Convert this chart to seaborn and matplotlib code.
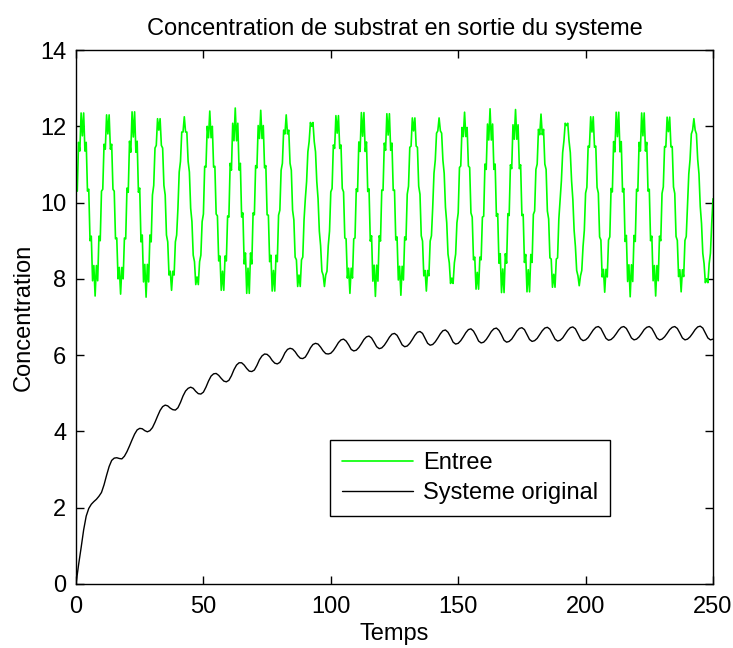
import numpy as np
import pandas as pd
import matplotlib
matplotlib.use("Agg")
import matplotlib.pyplot as plt
import seaborn as sns

# ---------------- data ----------------
# Input signal "Entree", sampled every 0.5 time unit from t = 0 to t = 250
entree = [
    10.35, 10.30, 11.58, 11.35, 12.35, 11.75, 12.35, 11.35, 11.58, 10.30, 10.35, 9.00, 9.12, 7.95, 8.35, 7.55, 8.35, 7.95, 9.12, 9.00,
    10.30, 10.35, 11.53, 11.40, 12.30, 11.80, 12.30, 11.40, 11.53, 10.35, 10.30, 9.05, 9.07, 8.00, 8.30, 7.60, 8.30, 8.00, 9.07, 9.05,
    10.38, 10.27, 11.61, 11.32, 12.38, 11.72, 12.38, 11.32, 11.61, 10.27, 10.38, 8.97, 9.15, 7.92, 8.38, 7.52, 8.38, 7.92, 9.15, 8.97,
    10.20, 10.45, 11.43, 11.50, 12.20, 11.90, 12.20, 11.50, 11.43, 10.45, 10.20, 9.15, 8.97, 8.10, 8.20, 7.70, 8.20, 8.10, 8.97, 9.15,
    9.85, 10.80, 11.08, 11.85, 11.85, 12.25, 11.85, 11.85, 11.08, 10.80, 9.85, 9.50, 8.62, 8.45, 7.85, 8.05, 7.85, 8.45, 8.62, 9.50,
    9.70, 10.95, 10.93, 12.00, 11.70, 12.40, 11.70, 12.00, 10.93, 10.95, 9.70, 9.65, 8.47, 8.60, 7.70, 8.20, 7.70, 8.60, 8.47, 9.65,
    9.62, 11.03, 10.85, 12.08, 11.62, 12.48, 11.62, 12.08, 10.85, 11.03, 9.62, 9.73, 8.39, 8.68, 7.62, 8.28, 7.62, 8.68, 8.39, 9.73,
    9.68, 10.97, 10.91, 12.02, 11.68, 12.42, 11.68, 12.02, 10.91, 10.97, 9.68, 9.67, 8.45, 8.62, 7.68, 8.22, 7.68, 8.62, 8.45, 9.67,
    9.80, 10.85, 11.03, 11.90, 11.80, 12.30, 11.80, 11.90, 11.03, 10.85, 9.80, 9.55, 8.57, 8.50, 7.80, 8.10, 7.80, 8.50, 8.57, 9.55,
    10.10, 10.55, 11.33, 11.60, 12.10, 12.00, 12.10, 11.60, 11.33, 10.55, 10.10, 9.25, 8.87, 8.20, 8.10, 7.80, 8.10, 8.20, 8.87, 9.25,
    10.28, 10.37, 11.51, 11.42, 12.28, 11.82, 12.28, 11.42, 11.51, 10.37, 10.28, 9.07, 9.05, 8.02, 8.28, 7.62, 8.28, 8.02, 9.05, 9.07,
    10.36, 10.29, 11.59, 11.34, 12.36, 11.74, 12.36, 11.34, 11.59, 10.29, 10.36, 8.99, 9.13, 7.94, 8.36, 7.54, 8.36, 7.94, 9.13, 8.99,
    10.33, 10.32, 11.56, 11.37, 12.33, 11.77, 12.33, 11.37, 11.56, 10.32, 10.33, 9.02, 9.10, 7.97, 8.33, 7.57, 8.33, 7.97, 9.10, 9.02,
    10.22, 10.43, 11.45, 11.48, 12.22, 11.88, 12.22, 11.48, 11.45, 10.43, 10.22, 9.13, 8.99, 8.08, 8.22, 7.68, 8.22, 8.08, 8.99, 9.13,
    9.88, 10.77, 11.11, 11.82, 11.88, 12.22, 11.88, 11.82, 11.11, 10.77, 9.88, 9.47, 8.65, 8.42, 7.88, 8.02, 7.88, 8.42, 8.65, 9.47,
    9.73, 10.92, 10.96, 11.97, 11.73, 12.37, 11.73, 11.97, 10.96, 10.92, 9.73, 9.62, 8.50, 8.57, 7.73, 8.17, 7.73, 8.57, 8.50, 9.62,
    9.64, 11.01, 10.87, 12.06, 11.64, 12.46, 11.64, 12.06, 10.87, 11.01, 9.64, 9.71, 8.41, 8.66, 7.64, 8.26, 7.64, 8.66, 8.41, 9.71,
    9.66, 10.99, 10.89, 12.04, 11.66, 12.44, 11.66, 12.04, 10.89, 10.99, 9.66, 9.69, 8.43, 8.64, 7.66, 8.24, 7.66, 8.64, 8.43, 9.69,
    9.78, 10.87, 11.01, 11.92, 11.78, 12.32, 11.78, 11.92, 11.01, 10.87, 9.78, 9.57, 8.55, 8.52, 7.78, 8.12, 7.78, 8.52, 8.55, 9.57,
    10.08, 10.57, 11.31, 11.62, 12.08, 12.02, 12.08, 11.62, 11.31, 10.57, 10.08, 9.27, 8.85, 8.22, 8.08, 7.82, 8.08, 8.22, 8.85, 9.27,
    10.25, 10.40, 11.48, 11.45, 12.25, 11.85, 12.25, 11.45, 11.48, 10.40, 10.25, 9.10, 9.02, 8.05, 8.25, 7.65, 8.25, 8.05, 9.02, 9.10,
    10.37, 10.28, 11.60, 11.33, 12.37, 11.73, 12.37, 11.33, 11.60, 10.28, 10.37, 8.98, 9.14, 7.93, 8.37, 7.53, 8.37, 7.93, 9.14, 8.98,
    10.35, 10.30, 11.58, 11.35, 12.35, 11.75, 12.35, 11.35, 11.58, 10.30, 10.35, 9.00, 9.12, 7.95, 8.35, 7.55, 8.35, 7.95, 9.12, 9.00,
    10.24, 10.41, 11.47, 11.46, 12.24, 11.86, 12.24, 11.46, 11.47, 10.41, 10.24, 9.11, 9.01, 8.06, 8.24, 7.66, 8.24, 8.06, 9.01, 9.11,
    9.90, 10.75, 11.13, 11.80, 11.90, 12.20, 11.90, 11.80, 11.13, 10.75, 9.90, 9.45, 8.67, 8.40, 7.90, 8.00, 7.90, 8.40, 8.67, 9.45,
    10.10,
]
t_entree = np.arange(len(entree)) * 0.5

# Output "Systeme original", sampled every 1 time unit from t = 0 to t = 250
systeme = [
    0.00, 0.50, 0.95, 1.42, 1.78, 1.98, 2.09, 2.16, 2.22, 2.30,
    2.40, 2.60, 2.85, 3.08, 3.24, 3.30, 3.31, 3.29, 3.28, 3.35,
    3.47, 3.62, 3.78, 3.93, 4.04, 4.08, 4.07, 4.02, 3.99, 4.02,
    4.10, 4.24, 4.40, 4.55, 4.65, 4.69, 4.67, 4.61, 4.57, 4.56,
    4.62, 4.76, 4.93, 5.06, 5.13, 5.16, 5.13, 5.05, 4.99, 4.98,
    5.03, 5.16, 5.32, 5.45, 5.51, 5.52, 5.47, 5.39, 5.32, 5.30,
    5.34, 5.46, 5.62, 5.74, 5.80, 5.80, 5.74, 5.65, 5.58, 5.57,
    5.61, 5.73, 5.88, 5.98, 6.03, 6.02, 5.96, 5.86, 5.79, 5.77,
    5.81, 5.92, 6.06, 6.15, 6.18, 6.16, 6.09, 5.99, 5.92, 5.91,
    5.95, 6.06, 6.19, 6.28, 6.31, 6.29, 6.21, 6.11, 6.04, 6.03,
    6.05, 6.12, 6.22, 6.33, 6.40, 6.42, 6.37, 6.27, 6.15, 6.11,
    6.13, 6.20, 6.30, 6.41, 6.48, 6.50, 6.45, 6.34, 6.22, 6.17,
    6.19, 6.26, 6.36, 6.47, 6.55, 6.57, 6.52, 6.40, 6.27, 6.22,
    6.24, 6.31, 6.41, 6.52, 6.60, 6.62, 6.57, 6.44, 6.31, 6.26,
    6.28, 6.35, 6.45, 6.56, 6.64, 6.66, 6.60, 6.48, 6.34, 6.29,
    6.31, 6.38, 6.48, 6.59, 6.67, 6.69, 6.63, 6.51, 6.37, 6.32,
    6.34, 6.41, 6.51, 6.62, 6.69, 6.71, 6.65, 6.53, 6.39, 6.34,
    6.36, 6.42, 6.52, 6.63, 6.70, 6.72, 6.67, 6.54, 6.41, 6.36,
    6.38, 6.44, 6.54, 6.64, 6.71, 6.73, 6.68, 6.55, 6.42, 6.37,
    6.39, 6.45, 6.55, 6.65, 6.72, 6.74, 6.69, 6.56, 6.43, 6.38,
    6.40, 6.46, 6.56, 6.66, 6.73, 6.75, 6.70, 6.57, 6.44, 6.39,
    6.41, 6.47, 6.56, 6.66, 6.73, 6.75, 6.70, 6.58, 6.45, 6.40,
    6.42, 6.48, 6.57, 6.67, 6.73, 6.75, 6.70, 6.58, 6.45, 6.40,
    6.42, 6.48, 6.57, 6.67, 6.73, 6.75, 6.70, 6.58, 6.45, 6.40,
    6.42, 6.48, 6.57, 6.67, 6.74, 6.76, 6.71, 6.58, 6.45, 6.40,
    6.42,
]
t_systeme = np.arange(len(systeme)) * 1.0

series_labels = ["Entree", "Systeme original"]
series_colors = ["#00ff00", "#000000"]
x_ticks = [0, 50, 100, 150, 200, 250]
y_ticks = [0, 2, 4, 6, 8, 10, 12, 14]
title = "Concentration de substrat en sortie du systeme"
x_label = "Temps"
y_label = "Concentration"

df_in = pd.DataFrame({"t": t_entree, "c": entree})
df_out = pd.DataFrame({"t": t_systeme, "c": systeme})

# ---------------- figure ----------------
sns.set_style("ticks")
plt.rcParams["font.family"] = ["Liberation Sans", "DejaVu Sans"]
plt.rcParams["text.color"] = "black"
plt.rcParams["axes.labelcolor"] = "black"
plt.rcParams["xtick.color"] = "black"
plt.rcParams["ytick.color"] = "black"

FS = 17

fig = plt.figure(figsize=(7.33, 6.48), dpi=100)
ax = fig.add_axes([0.1037, 0.0988, 0.869, 0.824])

sns.lineplot(data=df_in, x="t", y="c", color=series_colors[0], linewidth=1.2,
             label=series_labels[0], ax=ax, estimator=None, sort=False)
sns.lineplot(data=df_out, x="t", y="c", color=series_colors[1], linewidth=1.0,
             label=series_labels[1], ax=ax, estimator=None, sort=False)

ax.set_xlim(0, 250)
ax.set_ylim(0, 14)
ax.set_xticks(x_ticks)
ax.set_yticks(y_ticks)
ax.tick_params(axis="x", pad=9)
ax.tick_params(axis="y", pad=7)
ax.tick_params(direction="in", top=True, right=True, length=6, width=1.0,
               labelsize=FS, colors="black")
for s in ax.spines.values():
    s.set_visible(True)
    s.set_linewidth(1.0)
    s.set_color("black")

ax.set_title(title, fontsize=FS, pad=11, color="black")
ax.set_xlabel(x_label, fontsize=FS, labelpad=3)
ax.set_ylabel(y_label, fontsize=FS, labelpad=4)

leg = ax.legend(loc="lower left", bbox_to_anchor=(0.399, 0.127), fontsize=FS,
                frameon=True, fancybox=False, framealpha=1, edgecolor="black",
                borderaxespad=0, handlelength=3.0, handletextpad=0.45,
                borderpad=0.5, labelspacing=0.35)
leg.get_frame().set_linewidth(1.0)
for txt in leg.get_texts():
    txt.set_color("black")

fig.savefig("out.png", dpi=100)
